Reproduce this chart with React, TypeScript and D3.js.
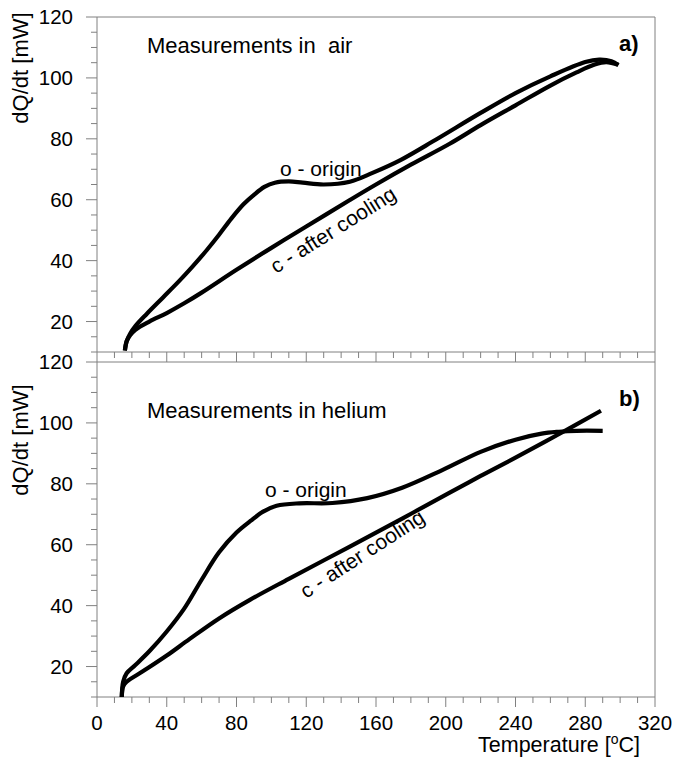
import React from "react";
import * as d3 from "d3";

// temperature [°C] / dQ/dt [mW]
const airOriginT = [16, 17, 19, 22, 28.5, 38, 47.6, 55, 63, 70, 77, 84, 90, 96, 102, 110, 118, 130, 145, 158, 174, 194, 220, 240, 260, 280, 288, 295, 299];
const airOriginQ = [10.5, 13.5, 16, 18.5, 22.5, 28, 33.6, 38.2, 43.5, 48.5, 53.8, 58.5, 61.6, 64.2, 65.6, 66, 65.6, 65, 65.9, 68.8, 73, 79.6, 88.5, 95, 100.5, 105.2, 106, 105.5, 104.2];

const airCoolT = [16, 17, 19, 22, 30, 40, 50, 60, 80, 100, 120, 145, 160, 180, 202, 220, 240, 260, 275, 285, 292, 299];
const airCoolQ = [10.5, 13.5, 15.5, 17.3, 20, 22.8, 26, 29.5, 37, 44.2, 51.2, 59.9, 65, 71.5, 78.3, 84.5, 91, 97.5, 101.8, 104.3, 105.2, 104.3];

const heOriginT = [14.2, 15, 17, 22, 30, 40, 50, 60, 70, 80, 88, 95, 103, 116, 135, 155, 175, 198, 220, 240, 255, 265, 275, 290];
const heOriginQ = [10, 15, 17.8, 20.5, 25, 31.5, 39, 48.5, 57.5, 64, 67.8, 70.8, 72.8, 73.6, 73.7, 75.3, 78.7, 84.5, 90.5, 94.5, 96.5, 97.1, 97.4, 97.4];

const heCoolT = [14.2, 15, 17, 26.5, 40, 53, 70, 87.7, 110, 145, 175, 202, 220, 240, 264.5, 289];
const heCoolQ = [10, 13.5, 15, 18.5, 23.6, 29, 35.8, 41.9, 48.8, 59.4, 68.6, 77, 82.6, 88.6, 96.2, 104];

const xMajor = [0, 40, 80, 120, 160, 200, 240, 280, 320];
const yMajor = [20, 40, 60, 80, 100, 120];

const W = 676;
const H = 760;
const left = 97;
const right = 655;
const font = "'Liberation Sans', Arial, sans-serif";
const axisColor = "#808080";

const x = d3.scaleLinear().domain([0, 320]).range([left, right]);

const zip = (t: number[], q: number[]) => t.map((v, i) => [v, q[i]] as [number, number]);

type PanelProps = {
  top: number;
  bottom: number;
  series: [number, number][][];
  title: string;
  tag: string;
  titleY: number;
  tagY: number;
  originPos: [number, number];
  coolPos: [number, number];
  coolAngle: number;
  labelY: number;
  showXLabels: boolean;
};

function Panel(p: PanelProps) {
  const y = d3.scaleLinear().domain([10, 120]).range([p.bottom, p.top]);
  const line = d3
    .line<[number, number]>()
    .x((d) => x(d[0]))
    .y((d) => y(d[1]))
    .curve(d3.curveCatmullRom.alpha(0.5));

  const yTicks = d3.range(10, 121, 5);
  const xTicks = d3.range(0, 321, 10);

  return (
    <g>
      {/* frame */}
      <line x1={left} x2={right} y1={p.top} y2={p.top} stroke={axisColor} />
      <line x1={right} x2={right} y1={p.top} y2={p.bottom} stroke={axisColor} />
      <line x1={left} x2={left} y1={p.top} y2={p.bottom} stroke={axisColor} />
      <line x1={left} x2={right} y1={p.bottom} y2={p.bottom} stroke={axisColor} />

      {yTicks.map((v) => {
        const major = v % 20 === 0;
        return (
          <line key={"y" + v} x1={left - (major ? 11 : 6)} x2={left} y1={y(v)} y2={y(v)} stroke={axisColor} />
        );
      })}
      {yMajor.map((v) => (
        <text key={"yl" + v} x={73} y={y(v)} dy="0.36em" textAnchor="end" fontSize={20.5} fontFamily={font}>
          {v}
        </text>
      ))}

      {xTicks.map((v) => {
        const major = v % 40 === 0;
        return (
          <line key={"x" + v} x1={x(v)} x2={x(v)} y1={p.bottom} y2={p.bottom + (major ? 10 : 6)} stroke={axisColor} />
        );
      })}
      {p.showXLabels &&
        xMajor.map((v) => (
          <text key={"xl" + v} x={x(v)} y={730} textAnchor="middle" fontSize={20.5} fontFamily={font}>
            {v}
          </text>
        ))}

      <text
        transform={`translate(28,${p.labelY}) rotate(-90)`}
        textAnchor="middle"
        fontSize={22}
        fontFamily={font}
      >
        dQ/dt [mW]
      </text>

      {p.series.map((s, i) => (
        <path key={i} d={line(s) || ""} fill="none" stroke="#000" strokeWidth={4.2} />
      ))}

      <text x={147} y={p.titleY} fontSize={22} fontFamily={font}>
        {p.title}
      </text>
      <text x={619} y={p.tagY} fontSize={22} fontWeight="bold" fontFamily={font}>
        {p.tag}
      </text>
      <text x={p.originPos[0]} y={p.originPos[1]} fontSize={21} fontFamily={font}>
        o - origin
      </text>
      <text
        transform={`translate(${p.coolPos[0]},${p.coolPos[1]}) rotate(${p.coolAngle})`}
        fontSize={21}
        fontFamily={font}
      >
        c - after cooling
      </text>
    </g>
  );
}

export default function App() {
  return (
    <svg width={W} height={H} style={{ position: "absolute", left: 0, top: 0, background: "#fff" }}>
      <Panel
        top={17}
        bottom={352}
        series={[zip(airOriginT, airOriginQ), zip(airCoolT, airCoolQ)]}
        title={"Measurements in\u00a0 air"}
        tag="a)"
        titleY={53}
        tagY={51}
        originPos={[280, 176]}
        coolPos={[276, 274]}
        coolAngle={-32}
        labelY={68}
        showXLabels={false}
      />
      <Panel
        top={362}
        bottom={697}
        series={[zip(heOriginT, heOriginQ), zip(heCoolT, heCoolQ)]}
        title="Measurements in helium"
        tag="b)"
        titleY={418}
        tagY={406}
        originPos={[265, 497]}
        coolPos={[306, 599]}
        coolAngle={-33}
        labelY={440}
        showXLabels={true}
      />
      <text x={640} y={752} textAnchor="end" fontSize={21.5} fontFamily={font}>
        Temperature [
        <tspan dy={-8} fontSize={14}>
          o
        </tspan>
        <tspan dy={8}>C]</tspan>
      </text>
    </svg>
  );
}
